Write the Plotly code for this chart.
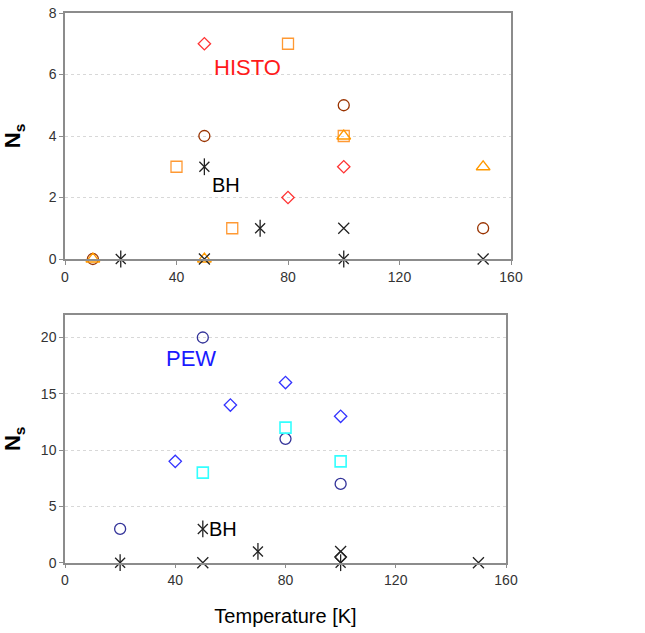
import plotly.graph_objects as go

# ---- Top panel (HISTO) ----
top_diam_x = [50, 80, 100]
top_diam_y = [7, 2, 3]
top_sq_x = [40, 60, 80, 100]
top_sq_y = [3, 1, 7, 4]
top_circ_x = [10, 50, 100, 150]
top_circ_y = [0, 4, 5, 1]
top_tri_x = [10, 50, 100, 150]
top_tri_y = [0, 0, 4, 3]
top_star_x = [20, 50, 70, 100]
top_star_y = [0, 3, 1, 0]
top_x_x = [50, 100, 150]
top_x_y = [0, 1, 0]

# ---- Bottom panel (PEW) ----
bot_circ_x = [20, 50, 80, 100]
bot_circ_y = [3, 20, 11, 7]
bot_diam_x = [40, 60, 80, 100]
bot_diam_y = [9, 14, 16, 13]
bot_sq_x = [50, 80, 100]
bot_sq_y = [8, 12, 9]
bot_star_x = [20, 50, 70, 100]
bot_star_y = [0, 3, 1, 0]
bot_x_x = [50, 100, 150]
bot_x_y = [0, 1, 0]
bot_bdiam_x = [100]
bot_bdiam_y = [0.5]

x_ticks = [0, 40, 80, 120, 160]
top_y_ticks = [0, 2, 4, 6, 8]
bot_y_ticks = [0, 5, 10, 15, 20]

fig = go.Figure()

def add(x, y, symbol, color, size, xa, ya, width=1.3):
    fig.add_trace(go.Scatter(x=x, y=y, mode="markers", xaxis=xa, yaxis=ya,
                             marker=dict(symbol=symbol, size=size, color=color,
                                         line=dict(color=color, width=width)),
                             showlegend=False, hoverinfo="x+y", cliponaxis=False))

# top
add(top_diam_x, top_diam_y, "diamond-open", "#FF3333", 9.5, "x", "y")
add(top_sq_x, top_sq_y, "square-open", "#FF9933", 11, "x", "y")
add(top_circ_x, top_circ_y, "circle-open", "#993300", 11, "x", "y")
add(top_tri_x, top_tri_y, "triangle-up-open", "#FF9900", 12, "x", "y")
add(top_star_x, top_star_y, "x-thin-open", "#222222", 10, "x", "y")
add(top_star_x, top_star_y, "line-ns-open", "#222222", 12, "x", "y")
add(top_x_x, top_x_y, "x-thin-open", "#222222", 11, "x", "y")

# bottom
add(bot_circ_x, bot_circ_y, "circle-open", "#333399", 11, "x2", "y2")
add(bot_diam_x, bot_diam_y, "diamond-open", "#3333FF", 9.5, "x2", "y2")
add(bot_sq_x, bot_sq_y, "square-open", "#33FFFF", 11, "x2", "y2", 1.6)
add(bot_bdiam_x, bot_bdiam_y, "diamond-open", "#222222", 9, "x2", "y2")
add(bot_star_x, bot_star_y, "x-thin-open", "#222222", 10, "x2", "y2")
add(bot_star_x, bot_star_y, "line-ns-open", "#222222", 12, "x2", "y2")
add(bot_x_x, bot_x_y, "x-thin-open", "#222222", 11, "x2", "y2")

W, H = 645, 633
def dx(px):
    return px / W
def dy(py):
    return (H - py) / H

FONT = "Liberation Sans, Arial"
axis_common = dict(showline=True, linecolor="#8C8C8C", linewidth=1.5, mirror=True,
                   ticks="outside", ticklen=4, tickcolor="#8C8C8C", zeroline=False,
                   automargin=False, ticklabeloverflow="allow",
                   tickfont=dict(family=FONT, size=14, color="#333333"))

fig.update_layout(
    width=W, height=H, margin=dict(l=0, r=0, t=0, b=0),
    paper_bgcolor="white", plot_bgcolor="white",
    font=dict(family=FONT),
    xaxis=dict(domain=[dx(65), dx(511)], range=[0, 160], tickvals=x_ticks,
               showgrid=False, anchor="y", **axis_common),
    yaxis=dict(domain=[dy(259), dy(13)], range=[0, 8], tickvals=top_y_ticks,
               showgrid=True, gridcolor="#D8D8D8", griddash="dot", anchor="x",
               title=dict(text="<b>N<sub>s</sub></b>", font=dict(size=22, color="black"), standoff=22),
               **axis_common),
    xaxis2=dict(domain=[dx(65), dx(506)], range=[0, 160], tickvals=x_ticks,
                showgrid=False, anchor="y2",
                title=dict(text="Temperature [K]", font=dict(size=20, color="black"), standoff=22),
                **axis_common),
    yaxis2=dict(domain=[dy(562.7), dy(315)], range=[0, 22], tickvals=bot_y_ticks,
                showgrid=True, gridcolor="#D8D8D8", griddash="dot", anchor="x2",
                title=dict(text="<b>N<sub>s</sub></b>", font=dict(size=22, color="black"), standoff=22),
                **axis_common),
    annotations=[
        dict(text="HISTO", x=65.6, y=6.24, xref="x", yref="y", showarrow=False,
             font=dict(size=22, color="#FF1A1A", family=FONT)),
        dict(text="BH", x=57.8, y=2.4, xref="x", yref="y", showarrow=False,
             font=dict(size=20, color="black", family=FONT)),
        dict(text="PEW", x=45.7, y=18.1, xref="x2", yref="y2", showarrow=False,
             font=dict(size=22, color="#1A1AFF", family=FONT)),
        dict(text="BH", x=57.4, y=2.95, xref="x2", yref="y2", showarrow=False,
             font=dict(size=20, color="black", family=FONT)),
    ],
)

fig.write_html("out.html", config={"displayModeBar": False},
               post_script="document.body.style.margin='0';")
